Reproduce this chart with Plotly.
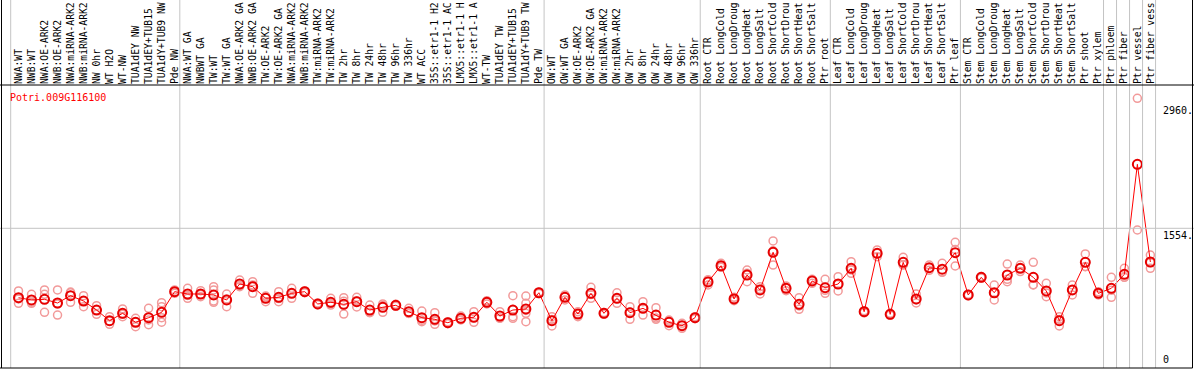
import plotly.graph_objects as go

gene_id = "Potri.009G116100"

categories = [
    "NWA:WT", "NWB:WT", "NWA:OE-ARK2", "NWB:OE-ARK2", "NWA:miRNA-ARK2", "NWB:miRNA-ARK2",
    "NW 0hr", "WT H2O", "WT-NW", "TUA1dEY NW", "TUA1dEY+TUB15 NW", "TUA1dY+TUB9 NW", "Pde NW",
    "NWA:WT GA", "NWBWT GA", "TW:WT", "TW:WT GA", "NWA:OE-ARK2 GA", "NWB:OE-ARK2 GA",
    "TW:OE-ARK2", "TW:OE-ARK2 GA", "NWA:miRNA-ARK2 GA", "NWB:miRNA-ARK2 GA", "TW:miRNA-ARK2",
    "TW:miRNA-ARK2 GA", "TW 2hr", "TW 8hr", "TW 24hr", "TW 48hr", "TW 96hr", "TW 336hr",
    "WT ACC", "35S::etr1-1 H2O", "35S::etr1-1 ACC", "LMX5::etr1-1 H2O", "LMX5::etr1-1 ACC",
    "WT-TW", "TUA1dEY TW", "TUA1dEY+TUB15 TW", "TUA1dY+TUB9 TW", "Pde TW",
    "OW:WT", "OW:WT GA", "OW:OE-ARK2", "OW:OE-ARK2 GA", "OW:miRNA-ARK2", "OW:miRNA-ARK2 GA",
    "OW 2hr", "OW 8hr", "OW 24hr", "OW 48hr", "OW 96hr", "OW 336hr",
    "Root CTR", "Root LongCold", "Root LongDrought", "Root LongHeat", "Root LongSalt",
    "Root ShortCold", "Root ShortDrought", "Root ShortHeat", "Root ShortSalt", "Ptr root",
    "Leaf CTR", "Leaf LongCold", "Leaf LongDrought", "Leaf LongHeat", "Leaf LongSalt",
    "Leaf ShortCold", "Leaf ShortDrought", "Leaf ShortHeat", "Leaf ShortSalt", "Ptr leaf",
    "Stem CTR", "Stem LongCold", "Stem LongDrought", "Stem LongHeat", "Stem LongSalt",
    "Stem ShortCold", "Stem ShortDrought", "Stem ShortHeat", "Stem ShortSalt", "Ptr shoot",
    "Ptr xylem", "Ptr phloem", "Ptr fiber", "Ptr vessel", "Ptr fiber vessel",
]

# number of categories in each separated group
group_sizes = [13, 28, 12, 10, 10, 11, 1, 1, 1, 1]

mean_values = [
    775, 750, 757, 716, 798, 738, 637, 517, 600, 499, 551, 611, 843,
    817, 817, 806, 750, 929, 899, 769, 780, 824, 843, 705, 724, 701, 731, 637, 668, 690,
    618, 551, 533, 495, 544, 556, 724, 570, 637, 649, 831,
    517, 780, 592, 824, 600, 769, 607, 656, 581, 499, 461, 551,
    952, 1134, 761, 1030, 862, 1285, 881, 701, 963, 888,
    929, 1105, 618, 1273, 589, 1172, 761, 1112, 1095, 1281,
    806, 1004, 831, 1030, 1105, 1004, 851, 517, 862, 1172, 824,
    881, 1038, 2272, 1176,
]

replicate_values = [
    [851, 762, 712], [813, 725, 712], [862, 813, 611], [862, 705, 581], [831, 839, 724],
    [798, 742, 674], [686, 637, 589], [562, 512, 477], [649, 590, 562], [544, 503, 450],
    [656, 525, 472], [719, 674, 551, 500], [862, 843, 824],
    [881, 800, 769], [854, 810, 787], [899, 862, 739, 724], [817, 760, 674], [974, 914, 899],
    [955, 918, 824], [794, 782, 731], [843, 766, 731], [881, 822, 769], [854, 843, 832],
    [715, 705, 695], [769, 710, 693], [775, 736, 592], [780, 742, 671], [693, 607, 611],
    [705, 688, 611], [701, 690, 679], [656, 598, 600], [626, 521, 506], [607, 515, 477],
    [506, 495, 484], [570, 537, 525], [618, 551, 499], [742, 724, 706], [618, 548, 544],
    [798, 644, 562, 544], [794, 712, 633, 600, 506], [840, 831, 822],
    [562, 531, 458], [806, 784, 750], [618, 596, 562], [892, 811, 769], [610, 600, 590],
    [831, 764, 712], [674, 614, 533], [731, 656, 581], [663, 547, 533], [525, 511, 461],
    [488, 463, 432], [562, 551, 540],
    [960, 978, 918], [1161, 1125, 1116], [780, 761, 742], [1086, 1049, 955], [899, 870, 817],
    [1412, 1301, 1142], [907, 882, 854], [775, 683, 645], [982, 970, 937], [982, 858, 824],
    [1011, 925, 851], [1179, 1087, 1049], [630, 618, 606], [1311, 1273, 1235], [600, 589, 578],
    [1228, 1146, 1142], [817, 750, 716], [1142, 1112, 1082], [1161, 1064, 1060], [1397, 1315, 1131],
    [815, 806, 797], [1012, 1004, 996], [918, 825, 750], [1153, 982, 955], [1142, 1105, 1068],
    [1172, 922, 918], [937, 829, 787], [562, 531, 458], [918, 862, 806], [1266, 1126, 1124],
    [843, 824, 806],
    [1004, 859, 780], [1105, 1005, 1004], [3013, 1535], [1254, 1169, 1105],
]

y_tick_values = [2960, 1554, 0]
y_tick_labels = ["2960.", "1554.", "0"]

# ---------------------------------------------------------------- figure
W, H = 1194, 370
LABEL_CHARS = 14  # the chart shows sample names cut to 14 characters
idx = list(range(len(categories)))
tick_text = [c[:LABEL_CHARS] for c in categories]

rep_x, rep_y = [], []
for i, reps in enumerate(replicate_values):
    for v in reps:
        rep_x.append(i)
        rep_y.append(v)

fig = go.Figure()
fig.add_trace(go.Scatter(
    x=rep_x, y=rep_y, mode="markers",
    marker=dict(symbol="circle-open", size=8, color="#f29a9a", line=dict(width=1.5)),
    hoverinfo="skip",
))
fig.add_trace(go.Scatter(
    x=idx, y=mean_values, mode="lines+markers",
    line=dict(color="#ff0000", width=1),
    marker=dict(symbol="circle-open", size=9, color="#e60000", line=dict(width=2)),
))

# pixel geometry
px_first, px_step = 18.5, 13.01
x_lo = (0 - px_first) / px_step
x_hi = (W - px_first) / px_step
y_top_px, y_bot_px = 85, 368
zero_px, px_per_unit = 366.8, 0.08912
y_lo = (zero_px - y_bot_px) / px_per_unit
y_hi = (zero_px - y_top_px) / px_per_unit

shapes = []
# group separators
b = -0.5
bounds = [b]
for g in group_sizes:
    b += g
    bounds.append(b)
for bd in bounds:
    shapes.append(dict(type="line", xref="x", yref="paper", x0=bd - 0.1, x1=bd - 0.1,
                       y0=(H - y_bot_px) / H, y1=1, line=dict(color="#c4c4c4", width=1)))
# mid gridline
shapes.append(dict(type="line", xref="paper", yref="y", x0=0, x1=1,
                   y0=y_tick_values[1], y1=y_tick_values[1], line=dict(color="#c4c4c4", width=1)))
# black frame pieces
shapes.append(dict(type="line", xref="paper", yref="paper", x0=0, x1=1,
                   y0=1 - y_top_px / H, y1=1 - y_top_px / H, line=dict(color="black", width=1)))
shapes.append(dict(type="line", xref="paper", yref="paper", x0=0, x1=1192.5 / W,
                   y0=1 - y_bot_px / H, y1=1 - y_bot_px / H, line=dict(color="black", width=1)))
shapes.append(dict(type="line", xref="paper", yref="paper", x0=1.5 / W, x1=1.5 / W,
                   y0=1 - y_bot_px / H, y1=1, line=dict(color="black", width=1)))
shapes.append(dict(type="line", xref="paper", yref="paper", x0=1192.5 / W, x1=1192.5 / W,
                   y0=1 - y_bot_px / H, y1=1, line=dict(color="black", width=1)))

mono = "DejaVu Sans Mono"
annotations = [dict(text=gene_id, xref="paper", yref="paper", x=8 / W, y=1 - 97 / H,
                    xanchor="left", yanchor="middle", showarrow=False,
                    font=dict(family=mono, size=10, color="#ff0000"))]
for v, t in zip(y_tick_values, y_tick_labels):
    annotations.append(dict(text=t, xref="paper", yref="y", x=1161 / W, y=v,
                            xanchor="left", yanchor="bottom" if v == 0 else "top",
                            showarrow=False, font=dict(family=mono, size=10, color="black")))

fig.update_layout(
    width=W, height=H, margin=dict(l=0, r=0, t=0, b=0),
    paper_bgcolor="white", plot_bgcolor="white", showlegend=False,
    shapes=shapes, annotations=annotations,
    xaxis=dict(range=[x_lo, x_hi], domain=[0, 1], tickmode="array", tickvals=idx,
               ticktext=tick_text, side="top", tickangle=-90, ticks="",
               tickfont=dict(family=mono, size=9.7, color="black"),
               showgrid=False, zeroline=False, showline=False, automargin=False),
    yaxis=dict(range=[y_lo, y_hi], domain=[(H - y_bot_px) / H, (H - y_top_px) / H],
               showticklabels=False, showgrid=False, zeroline=False, showline=False,
               automargin=False),
)

fig.write_html(
    "out.html",
    config={"displayModeBar": False},
    post_script="document.body.style.margin='0';document.body.style.overflow='hidden';",
)
